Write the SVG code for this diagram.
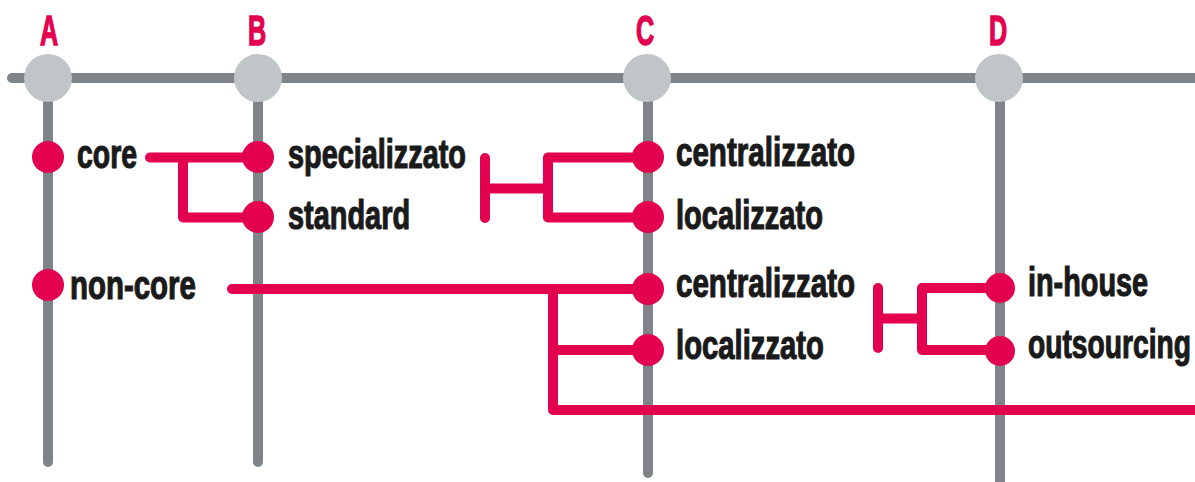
<svg xmlns="http://www.w3.org/2000/svg" width="1195" height="482" viewBox="0 0 1195 482">
  <style>
    .rail { stroke: #7e8487; stroke-width: 10; stroke-linecap: round; fill: none; }
    .hub { fill: #c0c5c7; }
    .link { stroke: #e3004f; stroke-width: 10; stroke-linecap: round; stroke-linejoin: round; fill: none; }
    .dot { fill: #e3004f; }
    .head { font-family: "Liberation Sans", Arial, sans-serif; font-weight: bold; font-size: 42px; fill: #e3004f; stroke: #e3004f; stroke-width: 1.4; }
    .lbl { font-family: "Liberation Sans", Arial, sans-serif; font-weight: bold; font-size: 41px; fill: #1a1a1a; stroke: #1a1a1a; stroke-width: 1.2; }
  </style>

  <!-- rails: timeline and the four columns -->
  <g id="rails">
    <line class="rail" x1="12" y1="78" x2="1200" y2="78"/>
    <line class="rail" x1="48" y1="78" x2="48" y2="462"/>
    <line class="rail" x1="258" y1="78" x2="258" y2="462"/>
    <line class="rail" x1="648" y1="78" x2="648" y2="473"/>
    <line class="rail" x1="1000" y1="78" x2="1000" y2="490"/>
  </g>

  <!-- column headers (condensed via horizontal scale) -->
  <g id="col-A">
    <circle class="hub" cx="48" cy="78" r="24"/>
    <text class="head" transform="translate(40,45) scale(0.6,1)">A</text>
  </g>
  <g id="col-B">
    <circle class="hub" cx="258" cy="78" r="24"/>
    <text class="head" transform="translate(248,45) scale(0.6,1)">B</text>
  </g>
  <g id="col-C">
    <circle class="hub" cx="647" cy="78" r="24"/>
    <text class="head" transform="translate(636,45) scale(0.6,1)">C</text>
  </g>
  <g id="col-D">
    <circle class="hub" cx="999" cy="78" r="24"/>
    <text class="head" transform="translate(989,45) scale(0.6,1)">D</text>
  </g>

  <!-- connectors -->
  <g id="connectors">
    <path class="link" d="M150,157.5 H258 M183,157.5 V217.5 H258"/>
    <path class="link" d="M485,158 V218 M485,188.5 H548 M648,157.5 H548 V217.5 H648"/>
    <path class="link" d="M232,289 H648 M553,289 V410 H1200 M553,350 H648"/>
    <path class="link" d="M878,288 V348 M878,318.5 H922 M1000,288 H922 V350 H1000"/>
  </g>

  <!-- nodes -->
  <g id="core">
    <circle class="dot" cx="48" cy="157" r="16"/>
    <text class="lbl" transform="translate(77,168) scale(0.693,1)">core</text>
  </g>
  <g id="non-core">
    <circle class="dot" cx="48" cy="285" r="16"/>
    <text class="lbl" transform="translate(70,299) scale(0.718,1)">non-core</text>
  </g>
  <g id="specializzato">
    <circle class="dot" cx="258" cy="157" r="16"/>
    <text class="lbl" transform="translate(288,168) scale(0.704,1)">specializzato</text>
  </g>
  <g id="standard">
    <circle class="dot" cx="258" cy="217" r="16"/>
    <text class="lbl" transform="translate(288,229) scale(0.705,1)">standard</text>
  </g>
  <g id="centralizzato-1">
    <circle class="dot" cx="648" cy="157" r="16"/>
    <text class="lbl" transform="translate(676,166) scale(0.721,1)">centralizzato</text>
  </g>
  <g id="localizzato-1">
    <circle class="dot" cx="648" cy="217" r="16"/>
    <text class="lbl" transform="translate(676,229) scale(0.709,1)">localizzato</text>
  </g>
  <g id="centralizzato-2">
    <circle class="dot" cx="648" cy="289" r="16"/>
    <text class="lbl" transform="translate(676,297) scale(0.721,1)">centralizzato</text>
  </g>
  <g id="localizzato-2">
    <circle class="dot" cx="648" cy="350" r="16"/>
    <text class="lbl" transform="translate(676,359) scale(0.714,1)">localizzato</text>
  </g>
  <g id="in-house">
    <circle class="dot" cx="1000" cy="288" r="15"/>
    <text class="lbl" transform="translate(1028,296) scale(0.703,1)">in-house</text>
  </g>
  <g id="outsourcing">
    <circle class="dot" cx="1000" cy="351" r="15"/>
    <text class="lbl" transform="translate(1028,358) scale(0.688,1)">outsourcing</text>
  </g>
</svg>
